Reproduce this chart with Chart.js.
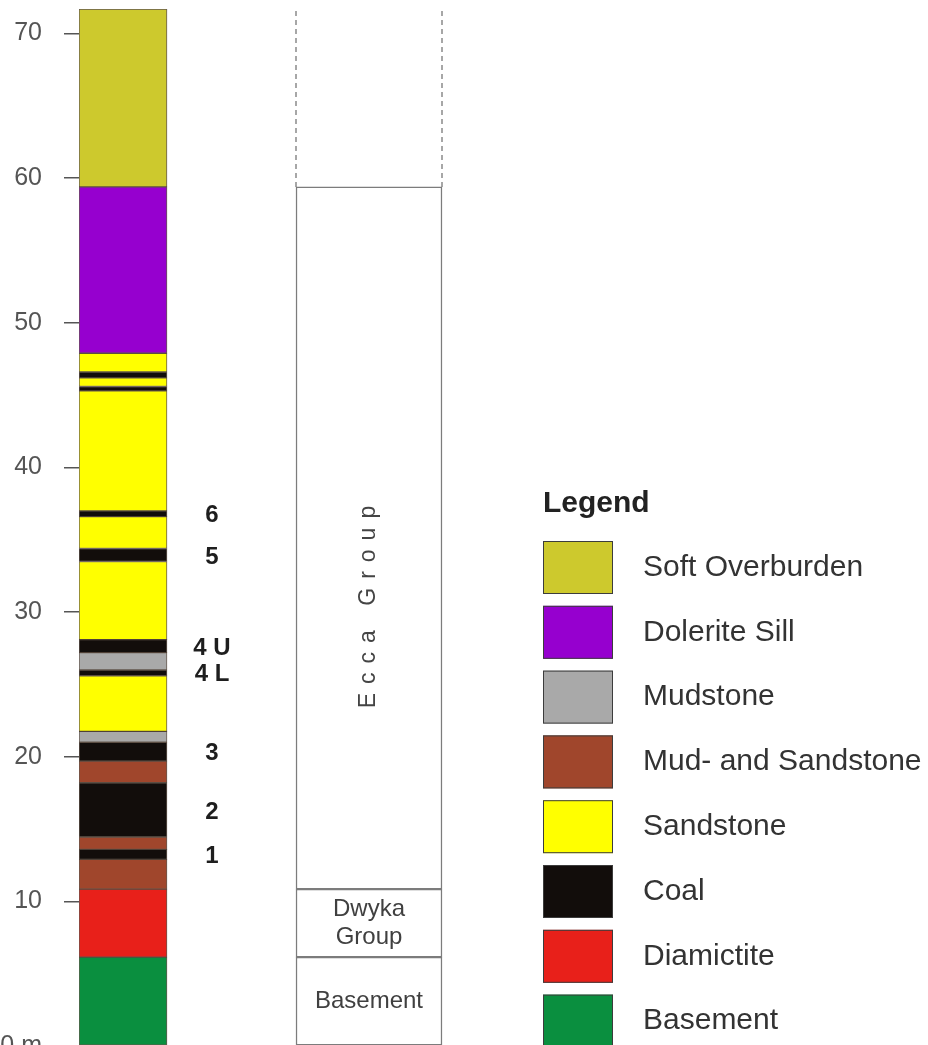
<!DOCTYPE html>
<html>
<head>
<meta charset="utf-8">
<script src="https://cdn.jsdelivr.net/npm/chart.js@4.4.1/dist/chart.umd.min.js"></script>
<style>
 html, body { margin: 0; padding: 0; background: #fff; overflow: hidden; }
 #chart { position: absolute; left: 0; top: -28px; }
</style>
</head>
<body>
<canvas id="chart" width="928" height="1111"></canvas>
<script>
// legend order + colours
const lithologies = ["Soft Overburden", "Dolerite Sill", "Mudstone", "Mud- and Sandstone", "Sandstone", "Coal", "Diamictite", "Basement"];
const lithColors = ["#cdc92d", "#9600cf", "#a9a9a9", "#a0462c", "#ffff00", "#120d0b", "#e8201a", "#0a8f3f"];

// borehole log, bottom to top (m)
const layerBase = [0, 6.15, 10.85, 12.9, 13.6, 14.45, 18.2, 19.7, 21.0, 21.75, 25.6, 26.0, 27.2, 28.1, 33.5, 34.4, 36.6, 37.0, 45.3, 45.6, 46.2, 46.6, 47.9, 59.4];
const layerRock = ["Basement", "Diamictite", "Mud- and Sandstone", "Coal", "Mud- and Sandstone", "Coal", "Mud- and Sandstone", "Coal", "Mudstone", "Sandstone", "Coal", "Mudstone", "Coal", "Sandstone", "Coal", "Sandstone", "Coal", "Sandstone", "Coal", "Sandstone", "Coal", "Sandstone", "Dolerite Sill", "Soft Overburden"];
const logTop = 71.7;

// coal seam names, bottom to top ("" = not named)
const seamNames = ["1", "2", "3", "4 L", "4 U", "5", "6", "", ""];

// stratigraphic units
const unitNames = ["Basement", "Dwyka\nGroup", "Ecca Group"];
const unitBase = [0, 6.15, 10.85];
const unitTop = [6.15, 10.85, 59.4];

const yTicks = [0, 10, 20, 30, 40, 50, 60, 70];

// x is a dummy 0-100 scale over a 400px chart area (4 px / unit)
const LITH_X = 11, SEAM_X = 33.25, FORM_X = 72.5, FORM_HALF = 18.25;
const ECCA_LABEL_AT = 30.35;
const FONT = "'Liberation Sans', Arial, sans-serif";

Chart.defaults.font.family = FONT;

const layerTops = layerBase.map((b, i) => (i + 1 < layerBase.length ? layerBase[i + 1] : logTop));

const lithSets = lithologies.map((name, k) => ({
 label: name,
 data: layerBase
  .map((b, i) => (layerRock[i] === name ? { x: LITH_X, y: [b, layerTops[i]] } : null))
  .filter(Boolean),
 backgroundColor: lithColors[k],
 borderColor: "rgba(50,32,20,0.75)",
 borderWidth: 1,
 borderSkipped: false,
 barThickness: 88,
 grouped: false,
}));

const unitSet = {
 label: "Units",
 data: unitNames.map((n, i) => ({ x: FORM_X, y: [unitBase[i], unitTop[i]] })),
 backgroundColor: "#ffffff",
 borderColor: "#7c7c7c",
 borderWidth: 1.5,
 borderSkipped: false,
 barThickness: FORM_HALF * 2 * 4,
 grouped: false,
};

// open (dashed) sides of the unit column above the Ecca
const dashSets = [FORM_X - FORM_HALF, FORM_X + FORM_HALF].map((x) => ({
 type: "line",
 data: [{ x, y: unitTop[2] }, { x, y: logTop }],
 borderColor: "#8a8a8a",
 borderWidth: 1.5,
 borderDash: [5, 4],
 pointRadius: 0,
}));

function spacedText(ctx, text, cx, cy, gap) {
 const chars = [...text];
 const widths = chars.map((c) => ctx.measureText(c).width);
 const total = widths.reduce((a, b) => a + b, 0) + gap * (chars.length - 1);
 let pos = cx - total / 2;
 chars.forEach((c, i) => {
  ctx.fillText(c, pos, cy);
  pos += widths[i] + gap;
 });
}

const annotate = {
 id: "annotate",
 afterDatasetsDraw(chart) {
  const { ctx, scales: { x, y } } = chart;
  ctx.save();
  ctx.textBaseline = "middle";

  // seam numbers
  ctx.font = "bold 24px " + FONT;
  ctx.fillStyle = "#1e1e1e";
  ctx.textAlign = "center";
  let seam = 0;
  layerRock.forEach((rock, i) => {
   if (rock !== "Coal") return;
   const name = seamNames[seam++];
   if (name) ctx.fillText(name, x.getPixelForValue(SEAM_X), y.getPixelForValue((layerBase[i] + layerTops[i]) / 2) + 2);
  });

  // unit names
  ctx.font = "24px " + FONT;
  ctx.fillStyle = "#404040";
  const fx = x.getPixelForValue(FORM_X);
  unitNames.forEach((name, i) => {
   if (i === 2) return;
   const lines = name.split("\n");
   const mid = y.getPixelForValue((unitBase[i] + unitTop[i]) / 2);
   lines.forEach((t, j) => ctx.fillText(t, fx, mid + (j - (lines.length - 1) / 2) * 28));
  });
  ctx.save();
  ctx.translate(fx, y.getPixelForValue(ECCA_LABEL_AT));
  ctx.rotate(-Math.PI / 2);
  ctx.font = "23px " + FONT;
  ctx.fillStyle = "#444";
  ctx.textAlign = "left";
  spacedText(ctx, unitNames[2], 0, 0, 9);
  ctx.restore();

  // legend (canvas sits 28px above the page top)
  const LX = 543, LY = 569, STEP = 64.8, BW = 70, BH = 53;
  ctx.textAlign = "left";
  ctx.font = "bold 30px " + FONT;
  ctx.fillStyle = "#222";
  ctx.fillText("Legend", LX, 532);
  ctx.font = "30px " + FONT;
  lithologies.forEach((name, k) => {
   const top = LY + k * STEP;
   ctx.fillStyle = lithColors[k];
   ctx.fillRect(LX, top, BW, BH);
   ctx.strokeStyle = "#3c3c3c";
   ctx.lineWidth = 1;
   ctx.strokeRect(LX + 0.5, top + 0.5, BW - 1, BH - 1);
   ctx.fillStyle = "#333";
   ctx.fillText(name, LX + 100, top + BH / 2);
  });
  ctx.restore();
 },
};

new Chart(document.getElementById("chart").getContext("2d"), {
 type: "bar",
 data: { datasets: [...lithSets, unitSet, ...dashSets] },
 options: {
  responsive: false,
  animation: false,
  layout: { padding: { top: 0, bottom: 0, left: 0, right: 449 } },
  plugins: { legend: { display: false }, tooltip: { enabled: false } },
  scales: {
   x: { type: "linear", min: 0, max: 100, offset: false, display: false },
   y: {
    min: 0,
    max: logTop,
    afterBuildTicks: (s) => {
     s.ticks = yTicks.map((v) => ({ value: v }));
    },
    afterFit: (s) => {
     s.width = 79;
    },
    border: { display: false },
    grid: { drawOnChartArea: false, drawTicks: true, tickLength: 15, color: "#555", lineWidth: 1.5 },
    ticks: {
     padding: 22,
     color: "#555",
     font: { size: 25 },
     callback: (v) => (v === 0 ? "0 m" : v),
    },
   },
  },
 },
 plugins: [annotate],
});
</script>
</body>
</html>
